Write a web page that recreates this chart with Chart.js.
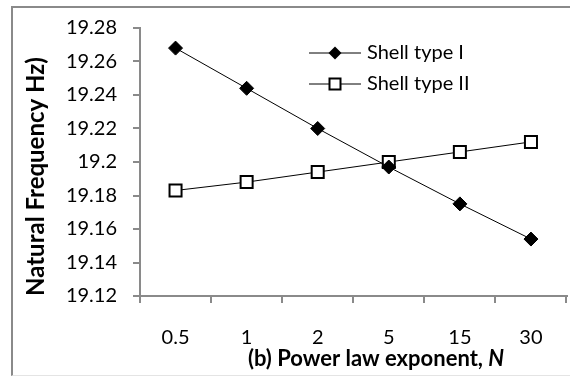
<!DOCTYPE html>
<html>
<head>
<meta charset="utf-8">
<script src="https://cdn.jsdelivr.net/npm/chart.js"></script>
<style>
  html, body { margin: 0; padding: 0; background: #fff; overflow: hidden; }
  #wrap { position: relative; width: 570px; height: 377px; overflow: hidden; }
  #frame { position: absolute; left: 11px; top: 6px; width: 620px; height: 367px;
           border-left: 2px solid #8a8a8a; border-top: 2px solid #8a8a8a; border-bottom: 1px solid #e4e4e4; }
  canvas { position: absolute; left: 0; top: 0; }
</style>
</head>
<body>
<div id="wrap">
  <div id="frame"></div>
  <canvas id="chart" width="577" height="377"></canvas>
</div>
<script>
const categories = ["0.5", "1", "2", "5", "15", "30"];
const shellTypeI = [19.268, 19.244, 19.220, 19.197, 19.175, 19.154];
const shellTypeII = [19.183, 19.188, 19.194, 19.200, 19.206, 19.212];
const yMin = 19.12, yMax = 19.28, yStep = 0.02;

const axisGray = "#8a8a8a";
const FONT = "Lato";

// legend drawn inside the plot area, line with marker in the middle
const insideLegend = {
  id: "insideLegend",
  afterDraw(chart) {
    const ctx = chart.ctx;
    const rows = [53, 84];
    ctx.save();
    chart.data.datasets.forEach((ds, i) => {
      const y = rows[i];
      ctx.strokeStyle = "#000";
      ctx.lineWidth = 1;
      ctx.beginPath();
      ctx.moveTo(309, y);
      ctx.lineTo(361, y);
      ctx.stroke();
      const cx = 335;
      if (ds.pointStyle === "rectRot") {
        const r = 6.5;
        ctx.fillStyle = "#000";
        ctx.beginPath();
        ctx.moveTo(cx, y - r);
        ctx.lineTo(cx + r, y);
        ctx.lineTo(cx, y + r);
        ctx.lineTo(cx - r, y);
        ctx.closePath();
        ctx.fill();
      } else {
        ctx.fillStyle = "#fff";
        ctx.lineWidth = 2;
        ctx.fillRect(cx - 6, y - 6, 12, 12);
        ctx.strokeRect(cx - 5.5, y - 5.5, 11, 11);
      }
      ctx.fillStyle = "#000";
      ctx.font = "20px " + FONT;
      ctx.textBaseline = "middle";
      ctx.textAlign = "left";
      ctx.fillText(ds.label, 367, y);
    });
    ctx.restore();
  }
};

// x title with italic N
const xTitle = {
  id: "xTitle",
  afterDraw(chart) {
    const ctx = chart.ctx;
    const a = "(b) Power law exponent, ", b = "N";
    ctx.save();
    ctx.fillStyle = "#000";
    ctx.textBaseline = "alphabetic";
    ctx.textAlign = "left";
    ctx.font = "bold 22px " + FONT;
    const wa = ctx.measureText(a).width;
    ctx.font = "italic bold 22px " + FONT;
    const wb = ctx.measureText(b).width;
    let x = 376 - (wa + wb) / 2;
    ctx.font = "bold 22px " + FONT;
    ctx.fillText(a, x, 366);
    ctx.font = "italic bold 22px " + FONT;
    ctx.fillText(b, x + wa, 366);
    ctx.restore();
  }
};

new Chart(document.getElementById("chart"), {
  type: "line",
  data: {
    labels: categories,
    datasets: [{
      label: "Shell type I",
      data: shellTypeI,
      borderColor: "#000",
      borderWidth: 1,
      backgroundColor: "#000",
      pointStyle: "rectRot",
      pointRadius: 7,
      pointBackgroundColor: "#000",
      pointBorderColor: "#000",
      pointBorderWidth: 1,
      tension: 0
    }, {
      label: "Shell type II",
      data: shellTypeII,
      borderColor: "#000",
      borderWidth: 1,
      backgroundColor: "#fff",
      pointStyle: "rect",
      pointRadius: 8.5,
      pointBackgroundColor: "#fff",
      pointBorderColor: "#000",
      pointBorderWidth: 2,
      tension: 0
    }]
  },
  options: {
    responsive: false,
    animation: false,
    devicePixelRatio: 1,
    layout: { padding: { top: 25, left: 0, right: 0, bottom: 0 } },
    plugins: { legend: { display: false }, tooltip: { enabled: false } },
    scales: {
      x: {
        offset: true,
        grid: { offset: true, drawOnChartArea: false, drawTicks: true, tickLength: 7, color: axisGray, lineWidth: 2 },
        border: { color: axisGray, width: 2 },
        ticks: { padding: 23, color: "#000", font: { family: FONT, size: 20 }, maxRotation: 0 },
        afterFit: s => { s.height = 81; }
      },
      y: {
        min: yMin,
        max: yMax,
        ticks: {
          stepSize: yStep,
          padding: 16,
          color: "#000",
          font: { family: FONT, size: 20 },
          callback: v => String(+v.toFixed(2))
        },
        grid: { drawOnChartArea: false, drawTicks: true, tickLength: 7, color: axisGray, lineWidth: 2 },
        border: { color: axisGray, width: 2 },
        title: {
          display: true,
          text: "Natural Frequency Hz)",
          align: "start",
          color: "#000",
          font: { family: FONT, size: 24, weight: "bold" },
          padding: { top: 22, bottom: 0 }
        },
        afterFit: s => { s.width = 140; }
      }
    }
  },
  plugins: [insideLegend, xTitle]
});
</script>
</body>
</html>
